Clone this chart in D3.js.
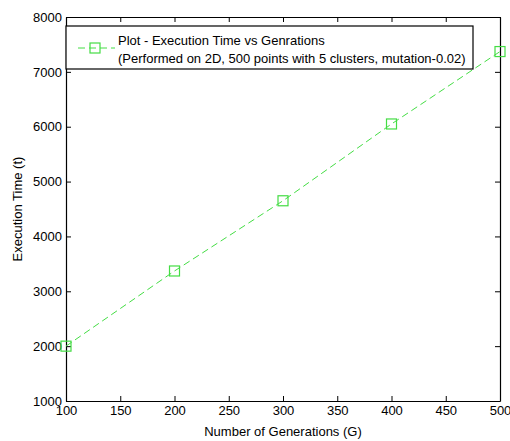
<!DOCTYPE html>
<html><head><meta charset="utf-8">
<script src="https://cdn.jsdelivr.net/npm/d3@7"></script>
<style>body{margin:0;background:#fff;} text{font-family:"Liberation Sans",Arial,sans-serif;}</style>
</head><body><svg id="c" width="510" height="441"></svg>
<script>
const generations = [100, 200, 300, 400, 500];
const execTime = [2000, 3370, 4650, 6050, 7370];
const xTicks = [100, 150, 200, 250, 300, 350, 400, 450, 500];
const yTicks = [1000, 2000, 3000, 4000, 5000, 6000, 7000, 8000];
const legendLines = ["Plot - Execution Time vs Genrations", "(Performed on 2D, 500 points with 5 clusters, mutation-0.02)"];

const svg = d3.select("#c");
const L = 66, R = 500, T = 17, B = 401;
const x = d3.scaleLinear().domain([100, 500]).range([L, R]);
const y = d3.scaleLinear().domain([1000, 8000]).range([B, T]);
const green = "#44dd44";
const fs = 13;

const g = svg.append("g");
const ax = g.append("g").attr("transform", `translate(0,${B})`)
  .call(d3.axisBottom(x).tickValues(xTicks).tickSizeInner(-5).tickSizeOuter(0).tickPadding(8).tickFormat(d3.format("d")));
const axTop = g.append("g").attr("transform", `translate(0,${T})`)
  .call(d3.axisTop(x).tickValues(xTicks).tickSizeInner(-5).tickSizeOuter(0).tickFormat(""));
const ay = g.append("g").attr("transform", `translate(${L},0)`)
  .call(d3.axisLeft(y).tickValues(yTicks).tickSizeInner(-5).tickSizeOuter(0).tickPadding(4).tickFormat(d3.format("d")));
const ayR = g.append("g").attr("transform", `translate(${R},0)`)
  .call(d3.axisRight(y).tickValues(yTicks).tickSizeInner(-5).tickSizeOuter(0).tickFormat(""));
[ax, axTop, ay, ayR].forEach(a => {
  a.selectAll("path.domain").attr("stroke", "#000").attr("stroke-width", 1.2);
  a.selectAll("line").attr("stroke", "#000");
  a.selectAll("text").attr("font-size", fs).attr("fill", "#000").style("font-family", "Liberation Sans, Arial, sans-serif");
});
ax.selectAll("text").attr("dy", "0.45em");

const line = d3.line().x((d, i) => x(generations[i])).y(d => y(d));
g.append("path").datum(execTime).attr("d", line).attr("fill", "none")
  .attr("stroke", green).attr("stroke-width", 1).attr("stroke-dasharray", "7,4");
g.selectAll("rect.m").data(execTime).join("rect").attr("class", "m")
  .attr("x", (d, i) => x(generations[i]) - 5).attr("y", d => y(d) - 5)
  .attr("width", 10).attr("height", 10).attr("fill", "none").attr("stroke", green).attr("stroke-width", 1.2);

const lg = g.append("g");
lg.append("rect").attr("x", L).attr("y", 26).attr("width", 473 - L).attr("height", 43)
  .attr("fill", "#fff").attr("stroke", "#000").attr("stroke-width", 1.2);
lg.append("line").attr("x1", 78).attr("x2", 115).attr("y1", 48).attr("y2", 48)
  .attr("stroke", green).attr("stroke-dasharray", "7,4");
lg.append("rect").attr("x", 90).attr("y", 43).attr("width", 10).attr("height", 10)
  .attr("fill", "none").attr("stroke", green).attr("stroke-width", 1.2);
lg.selectAll("text").data(legendLines).join("text")
  .attr("x", 118).attr("y", (d, i) => 45 + i * 18).attr("font-size", fs).attr("fill", "#000").text(d => d);

svg.append("text").attr("x", (L + R) / 2).attr("y", 436).attr("text-anchor", "middle")
  .attr("font-size", fs).text("Number of Generations (G)");
svg.append("text").attr("transform", `translate(22,${(T + B) / 2}) rotate(-90)`).attr("text-anchor", "middle")
  .attr("font-size", fs).text("Execution Time (t)");
</script></body></html>
